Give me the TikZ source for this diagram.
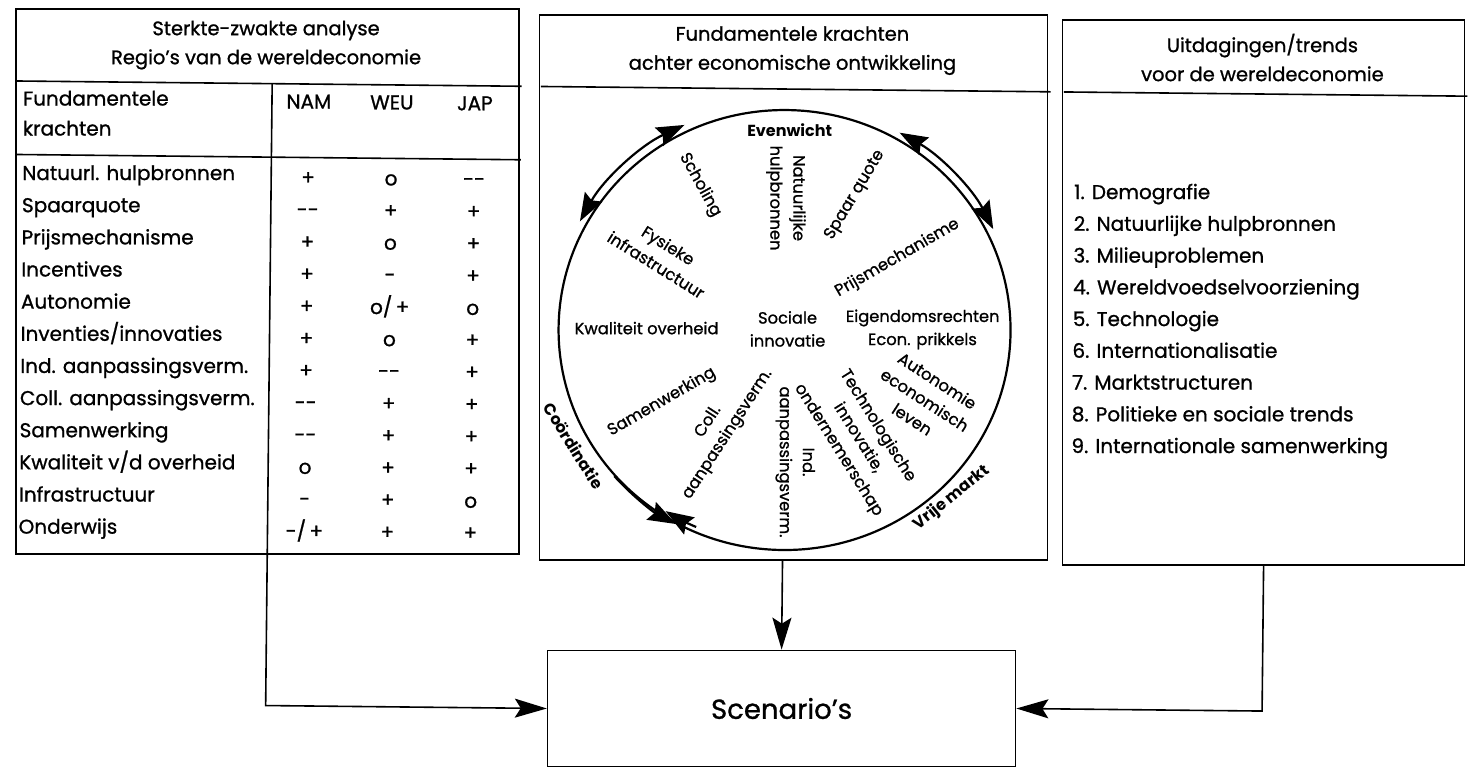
\documentclass[tikz,border=0pt]{standalone}
\usepackage{fontspec}
\setmainfont{Poppins}[UprightFeatures={FakeBold=1}]
\usetikzlibrary{arrows.meta,calc}
\begin{document}
\begin{tikzpicture}[x=1pt,y=1pt,
  box/.style={draw, line width=1.6pt, inner sep=0pt},
  rule/.style={line width=1.6pt},
  ttl/.style={font=\fontsize{19.5}{29}\selectfont, align=center, inner sep=0pt},
  tx/.style={font=\fontsize{20}{22}\selectfont, inner sep=0pt},
  ct/.style={font=\fontsize{16.3}{23}\selectfont, align=center, inner sep=0pt},
  bt/.style={font=\fontsize{16}{18}\selectfont\bfseries, inner sep=0pt},
  arr/.style={line width=1.6pt, -{Stealth[length=32pt,width=19pt,inset=6pt]}},
  carr/.style={line width=2.2pt, -{Stealth[length=28pt,width=20pt,inset=4pt]}},
  darr/.style={line width=2.2pt, {Stealth[length=28pt,width=20pt,inset=4pt]}-{Stealth[length=28pt,width=20pt,inset=4pt]}},
]
\useasboundingbox (0,0) rectangle (1468,-771);
\begin{scope}[rotate around={-0.6:(734,-385)}]
% ---------- boxes
\node[box, minimum width=503pt, minimum height=545pt, anchor=north west] (L) at (11,-16) {};
\node[box, minimum width=508pt, minimum height=545pt, anchor=north west] (M) at (535,-16) {};
\node[box, minimum width=402pt, minimum height=545pt, anchor=north west] (R) at (1058,-16) {};
\node[box, minimum width=468pt, minimum height=116pt, font=\fontsize{27.5}{32}\selectfont] (S) at (785,-708) {Scenario’s};
\coordinate (hT) at (0,-88.5);
\coordinate (hH) at (0,-162);
\draw[rule] (L.west |- hT) -- (L.east |- hT);
\draw[rule] (M.west |- hT) -- (M.east |- hT);
\draw[rule] (R.west |- hT) -- (R.east |- hT);
\draw[rule] (L.west |- hH) -- (L.east |- hH);
\draw[rule] (L.south |- hT) -- (L.south);
% ---------- titles
\node[ttl] (Lt) at (262.5,-50) {Sterkte-zwakte analyse\\Regio’s van de wereldeconomie};
\node[ttl] (Mt) at (789,-50) {Fundamentele krachten\\achter economische ontwikkeling};
\node[ttl] (Rt) at (1259,-52) {Uitdagingen/trends\\voor de wereldeconomie};
% ---------- table header
\node[tx, anchor=base west] (h1) at (20,-113) {Fundamentele};
\node[tx, anchor=base west] (h2) at (20,-143) {krachten};
\node[tx, anchor=base] (hn) at (306,-113) {NAM};
\node[tx, anchor=base] (hw) at (389,-113) {WEU};
\node[tx, anchor=base] (hj) at (472,-113) {JAP};
% ---------- table rows
\foreach \lab/\va/\vb/\vc [count=\i from 0] in {
  {Natuurl. hulpbronnen}/+/o/{-{}-},
  {Spaarquote}/{-{}-}/+/+,
  {Prijsmechanisme}/+/o/+,
  {Incentives}/+/-/+,
  {Autonomie}/+/{o/\,+}/o,
  {Inventies/innovaties}/+/o/+,
  {Ind. aanpassingsverm.}/+/{-{}-}/+,
  {Coll. aanpassingsverm.}/{-{}-}/+/+,
  {Samenwerking}/{-{}-}/+/+,
  {Kwaliteit v/d overheid}/o/+/+,
  {Infrastructuur}/-/+/o,
  {Onderwijs}/{-/\,+}/+/+}
{
  \node[tx, anchor=base west] (lab\i) at (20,{-187.5-32.15*\i}) {\lab};
  \node[tx, anchor=base] (nam\i) at (306,{-189-32.15*\i}) {\va};
  \node[tx, anchor=base] (weu\i) at (389,{-189-32.15*\i}) {\vb};
  \node[tx, anchor=base] (jap\i) at (472,{-189-32.15*\i}) {\vc};
}
% ---------- right list
\foreach \t [count=\i from 0] in {
  1. Demografie, 2. Natuurlijke hulpbronnen, 3. Milieuproblemen,
  4. Wereldvoedselvoorziening, 5. Technologie, 6. Internationalisatie,
  7. Marktstructuren, 8. Politieke en sociale trends, 9. Internationale samenwerking}
{
  \node[tx, anchor=base west] (tr\i) at (1072,{-195.5-31.75*\i}) {\t};
}
% ---------- circle
\coordinate (cc) at (784,-329.5);
\draw[line width=2.2pt] (cc) ellipse [x radius=226, y radius=220];
\draw[darr] ([shift={(152:233 and 227)}]cc) arc[start angle=152, end angle=116, x radius=233, y radius=227];
\draw[darr] ([shift={(61:233 and 227)}]cc) arc[start angle=61, end angle=27, x radius=233, y radius=227];
\draw[carr] ([shift={(222:227 and 221)}]cc) arc[start angle=222, end angle=242, x radius=227, y radius=221];
\draw[carr] ([shift={(247:221 and 215)}]cc) arc[start angle=247, end angle=238, x radius=221, y radius=215];
% ---------- circle labels
\node[bt] (ev) at (787,-129.4) {Evenwicht};
\node[ct, rotate=-90] (nh) at (784,-197.5) {Natuurlijke\\hulpbronnen};
\node[ct, rotate=-61] (sch) at (698,-185.4) {Scholing};
\node[ct, rotate=-32] (fi) at (661,-255.8) {Fysieke\\infrastructuur};
\node[ct, rotate=59] (sq) at (853,-193.7) {Spaar quote};
\node[ct, rotate=30] (pm) at (896,-256.3) {Prijsmechanisme};
\node[ct] (ko) at (646,-329) {Kwaliteit overheid};
\node[ct] (si) at (787,-328.4) {Sociale\\innovatie};
\node[ct] (er) at (922,-316) {Eigendomsrechten};
\node[ct] (ep) at (922,-339) {Econ. prikkels};
\node[ct, rotate=-33] (ae) at (925,-397.9) {Autonomie\\economisch\\leven};
\node[ct, rotate=-58] (ti) at (858.5,-436.7) {Technologische\\innovatie,\\ondernemerschap};
\node[ct, rotate=-90] (ia) at (796,-461.4) {Ind.\\aanpassingsverm.};
\node[ct, rotate=57] (ca) at (718.5,-428.2) {Coll.\\aanpassingsverm.};
\node[ct, rotate=30] (sw) at (662,-402.8) {Samenwerking};
\node[bt, rotate=-58] (co) at (574.6,-447.7) {Coördinatie};
\node[bt, rotate=39] (vm) at (953,-495.7) {Vrije markt};
% ---------- connectors
\draw[arr] (L.south) |- (S.west);
\draw[arr] (S.north |- M.south) -- (S.north);
\draw[arr] (R.south) |- (S.east);
\end{scope}
\end{tikzpicture}
\end{document}
